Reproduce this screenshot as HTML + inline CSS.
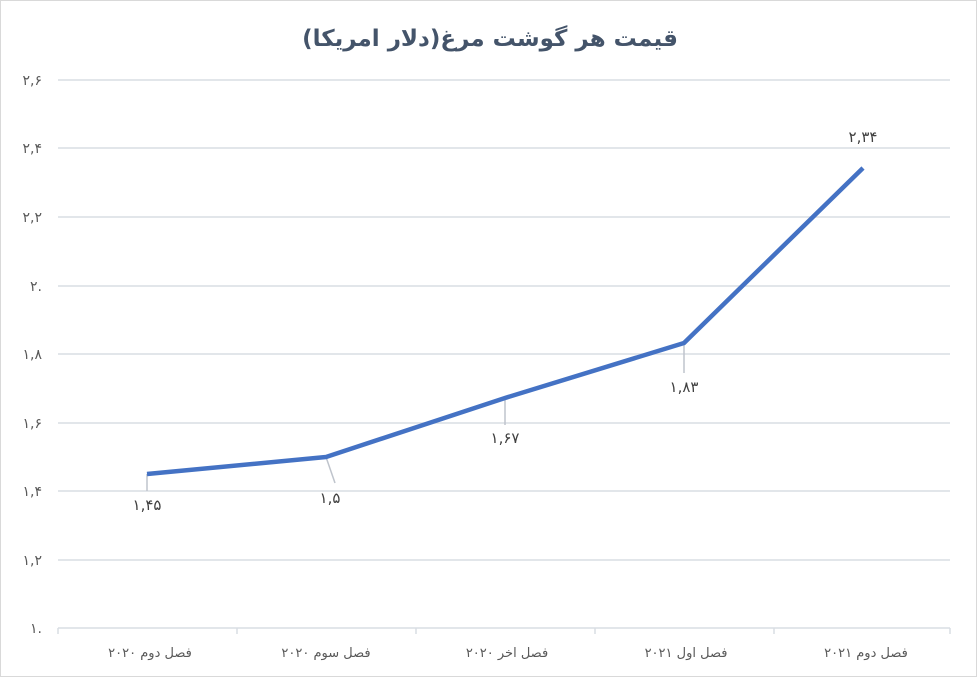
<!DOCTYPE html>
<html><head><meta charset="utf-8"><style>
html,body{margin:0;padding:0;background:#fff}
svg{display:block}
text{font-family:"DejaVu Sans","Liberation Sans",sans-serif}
</style></head><body>
<svg width="977" height="677" viewBox="0 0 977 677" xmlns="http://www.w3.org/2000/svg">
<rect x="0.5" y="0.5" width="976" height="676" fill="#fff" stroke="#d9d9d9"/>
<text x="490" y="46" text-anchor="middle" font-size="23" font-weight="bold" fill="#44546a" direction="rtl">قیمت هر گوشت مرغ(دلار امریکا)</text>
<g stroke="#d9dde3" stroke-width="1.5">
<line x1="58" y1="80" x2="950" y2="80"/>
<line x1="58" y1="148" x2="950" y2="148"/>
<line x1="58" y1="217" x2="950" y2="217"/>
<line x1="58" y1="286" x2="950" y2="286"/>
<line x1="58" y1="354" x2="950" y2="354"/>
<line x1="58" y1="423" x2="950" y2="423"/>
<line x1="58" y1="491" x2="950" y2="491"/>
<line x1="58" y1="560" x2="950" y2="560"/>
<line x1="58" y1="628" x2="950" y2="628"/>
<line x1="58" y1="628" x2="58" y2="634"/>
<line x1="237" y1="628" x2="237" y2="634"/>
<line x1="416" y1="628" x2="416" y2="634"/>
<line x1="595" y1="628" x2="595" y2="634"/>
<line x1="774" y1="628" x2="774" y2="634"/>
<line x1="950" y1="628" x2="950" y2="634"/>
</g>
<g font-size="14" fill="#595959" text-anchor="end">
<text x="42" y="85">۲,۶</text>
<text x="42" y="153">۲,۴</text>
<text x="42" y="222">۲,۲</text>
<text x="42" y="291">۲.</text>
<text x="42" y="359">۱,۸</text>
<text x="42" y="428">۱,۶</text>
<text x="42" y="496">۱,۴</text>
<text x="42" y="565">۱,۲</text>
<text x="42" y="633">۱.</text>
</g>
<g font-size="13" fill="#595959" text-anchor="middle">
<text x="150" y="657">فصل دوم ۲۰۲۰</text>
<text x="326" y="657">فصل سوم ۲۰۲۰</text>
<text x="507" y="657">فصل اخر ۲۰۲۰</text>
<text x="686" y="657">فصل اول ۲۰۲۱</text>
<text x="866" y="657">فصل دوم ۲۰۲۱</text>
</g>
<g stroke="#bfc4cc" stroke-width="1.5">
<line x1="147" y1="474" x2="147" y2="491"/>
<line x1="326" y1="457" x2="335" y2="483"/>
<line x1="505" y1="398" x2="505" y2="425"/>
<line x1="684" y1="343" x2="684" y2="373"/>
</g>
<polyline points="147,474 326,457 505,398 684,343 863,168" fill="none" stroke="#4472c4" stroke-width="4.5" stroke-linejoin="round"/>
<g font-size="15" fill="#404040" text-anchor="middle">
<text x="147" y="510">۱,۴۵</text>
<text x="330" y="503">۱,۵</text>
<text x="505" y="443">۱,۶۷</text>
<text x="684" y="392">۱,۸۳</text>
<text x="863" y="142">۲,۳۴</text>
</g>
</svg>
</body></html>
